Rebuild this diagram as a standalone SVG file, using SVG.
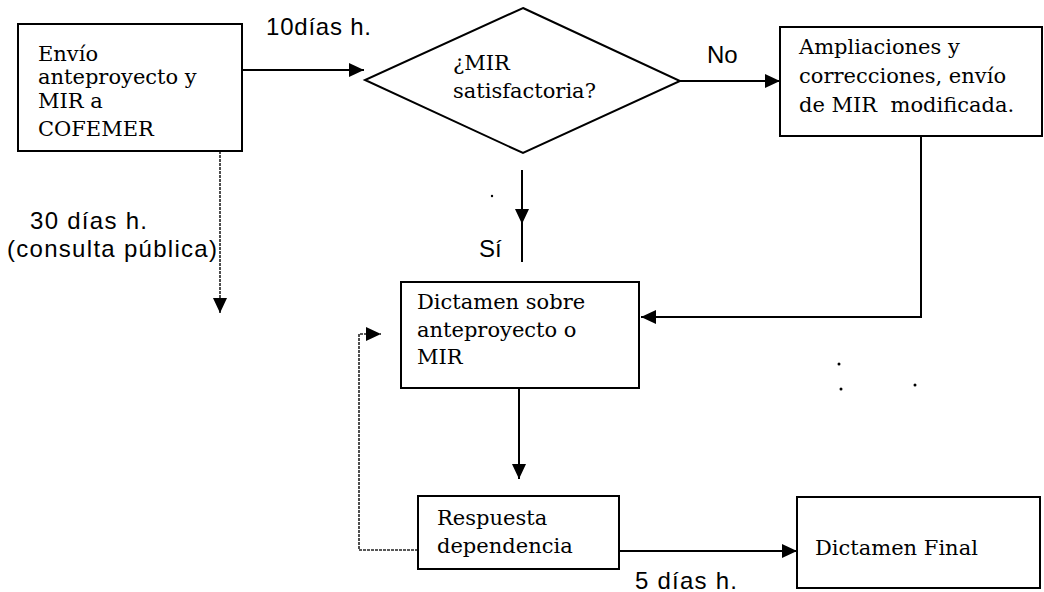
<svg xmlns="http://www.w3.org/2000/svg" width="1044" height="592" viewBox="0 0 1044 592">
<style>
.box{fill:#fff;stroke:#000;stroke-width:2}
.ser{font-family:"DejaVu Serif","Liberation Serif",serif;font-size:21px;fill:#000}
.sans{font-family:"Liberation Sans",Arial,sans-serif;font-size:24px;fill:#000}
.ln{fill:none;stroke:#000;stroke-width:2}
.thin{fill:none;stroke:#222;stroke-width:1.6;stroke-dasharray:3 1}
</style>
<defs>
<marker id="ah" markerUnits="userSpaceOnUse" markerWidth="16" markerHeight="16" refX="15" refY="7" orient="auto">
<path d="M0,0 L15,7 L0,14 Z" fill="#000"/>
</marker>
</defs>
<rect width="1044" height="592" fill="#fff"/>
<g id="connectors">
<line class="ln" x1="242" y1="70" x2="364" y2="70" marker-end="url(#ah)"/>
<line class="ln" x1="680" y1="81" x2="780" y2="81" marker-end="url(#ah)"/>
<line class="ln" x1="522" y1="170" x2="522" y2="224" marker-end="url(#ah)"/>
<line class="ln" x1="522" y1="222" x2="522" y2="262"/>
<path class="ln" d="M921,136 V317 H641" marker-end="url(#ah)"/>
<line class="thin" x1="220" y1="151" x2="220" y2="313" marker-end="url(#ah)"/>
<path class="thin" d="M418,550 H359 V334 H381" marker-end="url(#ah)"/>
<line class="ln" x1="519" y1="387" x2="519" y2="479" marker-end="url(#ah)"/>
<line class="ln" x1="619" y1="551" x2="797" y2="551" marker-end="url(#ah)"/>
<text class="sans" x="266" y="35" textLength="105" lengthAdjust="spacing">10días h.</text>
<text class="sans" x="707" y="63">No</text>
<text class="sans" x="30" y="229" textLength="117" lengthAdjust="spacing">30 días h.</text>
<text class="sans" x="7" y="257" textLength="210" lengthAdjust="spacing">(consulta pública)</text>
<text class="sans" x="479" y="257">Sí</text>
<text class="sans" x="635" y="589" textLength="102" lengthAdjust="spacing">5 días h.</text>
</g>
<g id="n1">
<rect class="box" x="18" y="24" width="224" height="127"/>
<text class="ser" x="38" y="61">Envío</text>
<text class="ser" x="38" y="84">anteproyecto y</text>
<text class="ser" x="38" y="108">MIR a</text>
<text class="ser" x="38" y="136">COFEMER</text>
</g>
<g id="n2">
<polygon class="box" points="523,8 680,81 523,153 365,80"/>
<text class="ser" x="453" y="70">¿MIR</text>
<text class="ser" x="453" y="98">satisfactoria?</text>
</g>
<g id="n3">
<rect class="box" x="780" y="27" width="262" height="109"/>
<text class="ser" x="799" y="54">Ampliaciones y</text>
<text class="ser" x="799" y="83">correcciones, envío</text>
<text class="ser" x="799" y="112" xml:space="preserve">de MIR  modificada.</text>
</g>
<g id="n4">
<rect class="box" x="401" y="282" width="238" height="106"/>
<text class="ser" x="417" y="309">Dictamen sobre</text>
<text class="ser" x="417" y="337">anteproyecto o</text>
<text class="ser" x="417" y="364">MIR</text>
</g>
<g id="n5">
<rect class="box" x="418" y="496" width="201" height="73"/>
<text class="ser" x="437" y="525">Respuesta</text>
<text class="ser" x="437" y="553">dependencia</text>
</g>
<g id="n6">
<rect class="box" x="797" y="497" width="243" height="91"/>
<text class="ser" x="815" y="555">Dictamen Final</text>
</g>
<g id="dots" fill="#000">
<circle cx="839" cy="364" r="1.5"/>
<circle cx="841" cy="389" r="1.5"/>
<circle cx="915" cy="385" r="1.5"/>
<circle cx="492" cy="196" r="1.2"/>
</g>
</svg>
